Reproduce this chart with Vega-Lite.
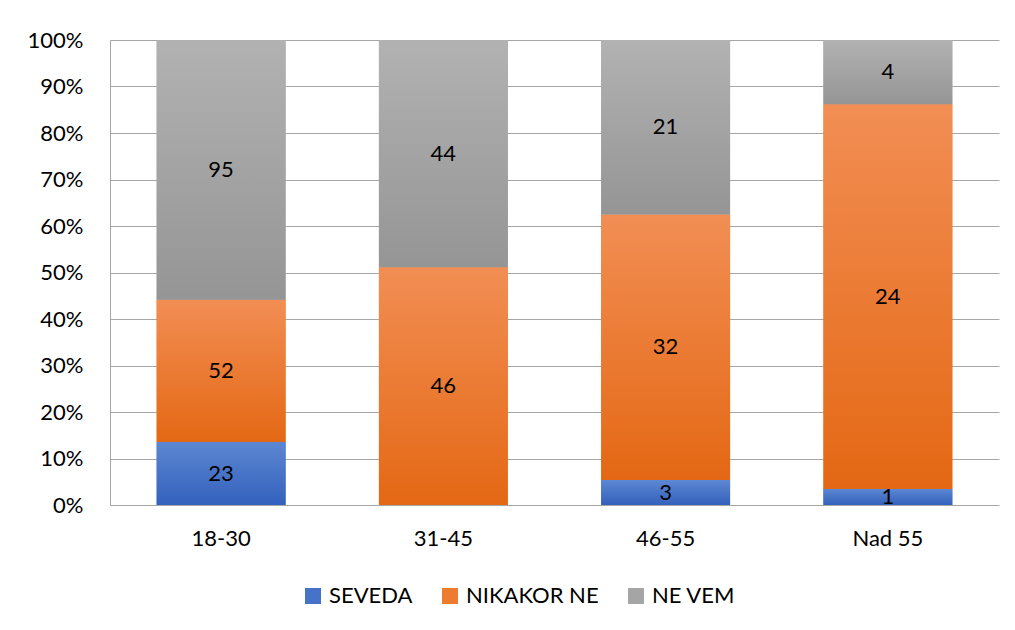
{
  "$schema": "https://vega.github.io/schema/vega-lite/v6.json",
  "width": 889,
  "height": 465,
  "autosize": {"type": "none"},
  "padding": {"left": 110, "top": 40, "right": 16, "bottom": 125},
  "background": "white",
  "config": {
    "font": "Lato",
    "view": {"stroke": null}
  },
  "data": {
    "values": [
      {"age": "18-30", "series": "SEVEDA", "value": 23},
      {"age": "18-30", "series": "NIKAKOR NE", "value": 52},
      {"age": "18-30", "series": "NE VEM", "value": 95},
      {"age": "31-45", "series": "SEVEDA", "value": 0},
      {"age": "31-45", "series": "NIKAKOR NE", "value": 46},
      {"age": "31-45", "series": "NE VEM", "value": 44},
      {"age": "46-55", "series": "SEVEDA", "value": 3},
      {"age": "46-55", "series": "NIKAKOR NE", "value": 32},
      {"age": "46-55", "series": "NE VEM", "value": 21},
      {"age": "Nad 55", "series": "SEVEDA", "value": 1},
      {"age": "Nad 55", "series": "NIKAKOR NE", "value": 24},
      {"age": "Nad 55", "series": "NE VEM", "value": 4}
    ]
  },
  "transform": [
    {"stack": "value", "groupby": ["age"], "sort": [{"field": "series", "order": "descending"}], "offset": "normalize", "as": ["y0", "y1"]},
    {"calculate": "(datum.y0 + datum.y1) / 2", "as": "ymid"}
  ],
  "encoding": {
    "x": {
      "field": "age", "type": "nominal", "title": null,
      "scale": {"paddingInner": 0.42, "paddingOuter": 0.21},
      "axis": {"labelAngle": 0, "labelFontSize": 22, "labelColor": "#000000", "labelPadding": 23, "ticks": false, "domain": false, "grid": false}
    },
    "y": {
      "field": "y0", "type": "quantitative", "title": null,
      "scale": {"domain": [0, 1], "nice": false},
      "axis": {"format": ".0%", "values": [0, 0.1, 0.2, 0.3, 0.4, 0.5, 0.6, 0.7, 0.8, 0.9, 1], "labelFontSize": 22, "labelColor": "#000000", "labelPadding": 27, "ticks": false, "domain": true, "domainColor": "#A6A6A6", "gridColor": "#A6A6A6", "gridWidth": 1}
    },
    "y2": {"field": "y1"}
  },
  "layer": [
    {
      "mark": {"type": "bar"},
      "encoding": {
        "fill": {
          "field": "series", "type": "nominal", "title": null,
          "scale": {
            "domain": ["SEVEDA", "NIKAKOR NE", "NE VEM"],
            "range": ["#4673C8", "#ED7B30", "#A5A5A5"]
          },
          "legend": {
            "orient": "none", "legendX": 192, "legendY": 545, "direction": "horizontal",
            "symbolType": "square", "symbolSize": 256, "symbolStrokeWidth": 0, "symbolOpacity": 1,
            "labelFontSize": 22, "labelColor": "#000000", "labelOffset": 5, "columnPadding": 26
          }
        }
      }
    },
    {
      "transform": [{"filter": "datum.series == 'SEVEDA'"}],
      "mark": {"type": "bar", "fill": {"gradient": "linear", "x1": 0, "y1": 0, "x2": 0, "y2": 1, "stops": [{"offset": 0, "color": "#5C87D2"}, {"offset": 1, "color": "#3461BC"}]}}
    },
    {
      "transform": [{"filter": "datum.series == 'NIKAKOR NE'"}],
      "mark": {"type": "bar", "fill": {"gradient": "linear", "x1": 0, "y1": 0, "x2": 0, "y2": 1, "stops": [{"offset": 0, "color": "#F28E54"}, {"offset": 1, "color": "#E46814"}]}}
    },
    {
      "transform": [{"filter": "datum.series == 'NE VEM'"}],
      "mark": {"type": "bar", "fill": {"gradient": "linear", "x1": 0, "y1": 0, "x2": 0, "y2": 1, "stops": [{"offset": 0, "color": "#B2B2B2"}, {"offset": 1, "color": "#959595"}]}}
    },
    {
      "transform": [{"filter": "datum.value > 0"}],
      "mark": {"type": "text", "fontSize": 22, "color": "#000000", "baseline": "middle", "align": "center"},
      "encoding": {
        "y": {"field": "ymid", "type": "quantitative"},
        "y2": null,
        "text": {"field": "value", "type": "quantitative"}
      }
    }
  ]
}
